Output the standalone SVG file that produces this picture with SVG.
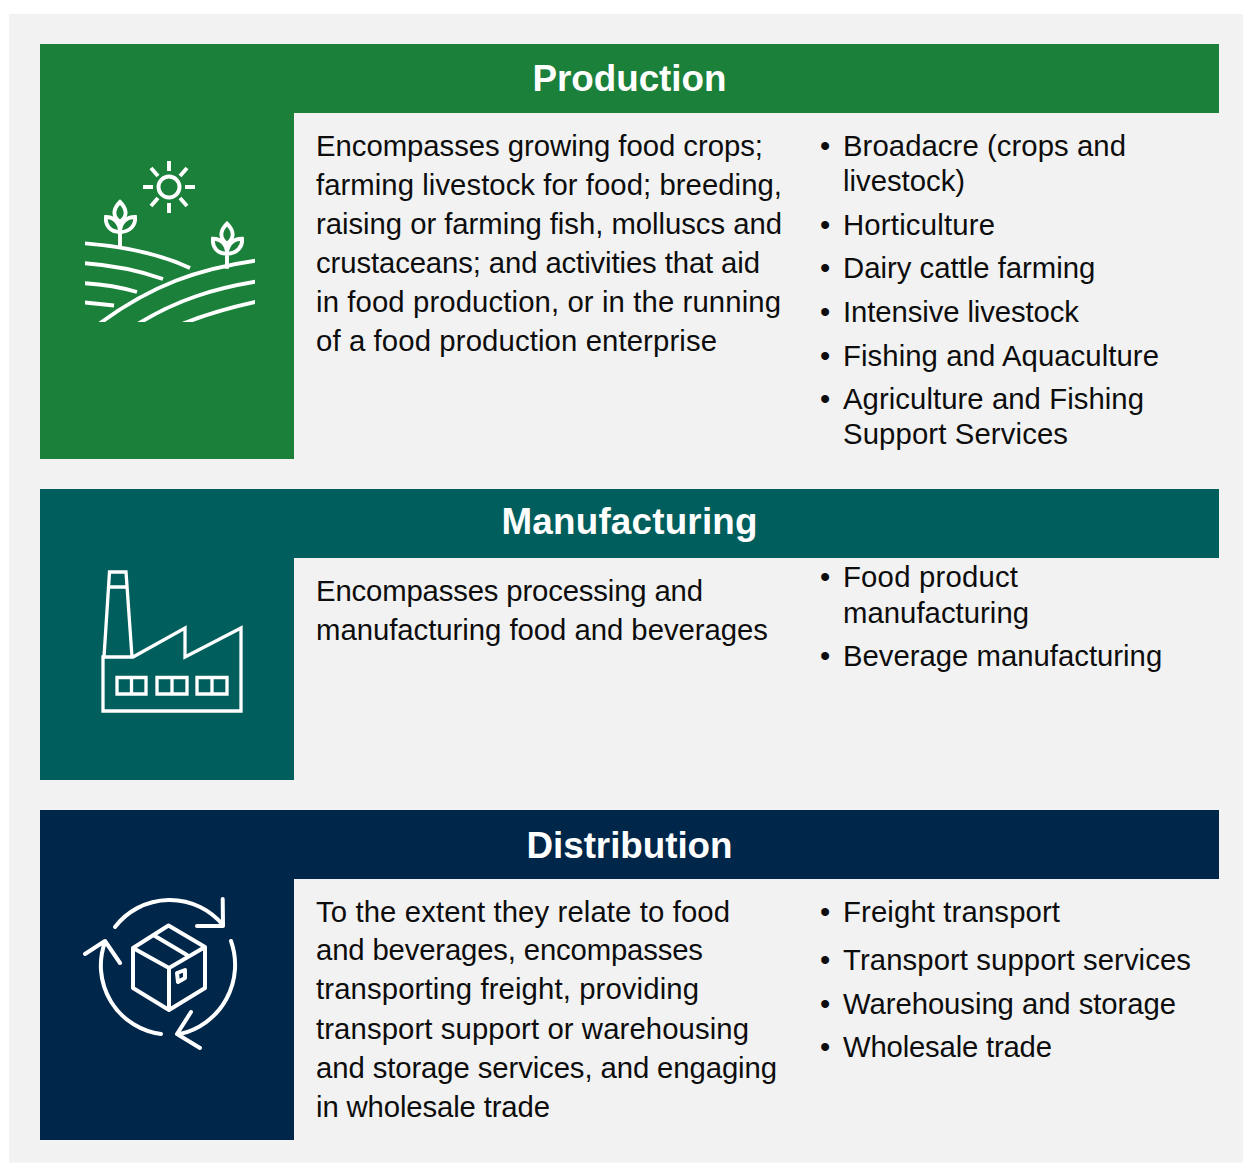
<svg xmlns="http://www.w3.org/2000/svg" width="1243" height="1164" viewBox="0 0 1243 1164">
<style>
text{font-family:"Liberation Sans",Arial,sans-serif;fill:#0d0d0d}
.b{font-size:29.3px}
.h{font-size:36.8px;font-weight:bold;fill:#fff;text-anchor:middle}
.i{fill:none;stroke:#fff;stroke-width:3.3}
.p{stroke-width:3.9}
.t{stroke-width:4;stroke-linejoin:round;stroke-linecap:round}
</style>
<defs><clipPath id="hill"><rect x="85" y="230" width="170" height="92"/></clipPath></defs>
<rect width="1243" height="1164" fill="#fff"/>
<rect x="9" y="14" width="1234" height="1148.500" fill="#f2f2f2"/>
<g id="production">
<path d="M40 44H1219V113H294V459H40Z" fill="#1b8039"/>
<text class="h" x="629.500" y="91" textLength="194">Production</text>
<g class="i p">
<circle cx="169" cy="187" r="10.500"/>
<path d="M169 161V171M169 203V213M143 187H153M185 187H195M151 168L158 176M187 168L180 176M151 206L158 198M187 206L180 198"/>
<g clip-path="url(#hill)">
<path d="M80 243C125 246 160 254 190 268M80 263C115 265 140 271 163 279M80 283C102 284 120 287 137 292M80 302L114 305.500M95 327C150 285 200 268 260 260M133 327C175 300 215 288 260 281M175 327C205 314 232 307 260 301"/>
</g>
<path id="sprout" d="M120 247V222M120 202C113 209 112 216 120 222C128 216 127 209 120 202ZM120 232C110 232 105 225 106 217C113 217 120 222 120 232C120 222 127 217 135 217C136 225 130 232 120 232Z"/>
<use href="#sprout" x="107" y="21.700"/>
</g>
<text class="b" x="316" y="156" textLength="447">Encompasses growing food crops;</text>
<text class="b" x="316" y="195" textLength="466">farming livestock for food; breeding,</text>
<text class="b" x="316" y="234" textLength="466">raising or farming fish, molluscs and</text>
<text class="b" x="316" y="273" textLength="444">crustaceans; and activities that aid</text>
<text class="b" x="316" y="312" textLength="465">in food production, or in the running</text>
<text class="b" x="316" y="351" textLength="401">of a food production enterprise</text>
<text class="b" x="820" y="156">•</text><text class="b" x="843" y="156" textLength="283">Broadacre (crops and</text>
<text class="b" x="843" y="191">livestock)</text>
<text class="b" x="820" y="235">•</text><text class="b" x="843" y="235" textLength="152">Horticulture</text>
<text class="b" x="820" y="278">•</text><text class="b" x="843" y="278">Dairy cattle farming</text>
<text class="b" x="820" y="322">•</text><text class="b" x="843" y="322" textLength="236">Intensive livestock</text>
<text class="b" x="820" y="366">•</text><text class="b" x="843" y="366" textLength="316">Fishing and Aquaculture</text>
<text class="b" x="820" y="409">•</text><text class="b" x="843" y="409" textLength="301">Agriculture and Fishing</text>
<text class="b" x="843" y="444" textLength="225">Support Services</text>
</g>
<g id="manufacturing">
<path d="M40 489H1219V558H294V780H40Z" fill="#005e5c"/>
<text class="h" x="629.500" y="534" textLength="256">Manufacturing</text>
<g class="i">
<path d="M103 657H133L185 628V657L241 628V711H103ZM104 657L109.500 572H126L132 657M108 587H127"/>
<path d="M117 677.500H146V694H117ZM131.500 677.500V694M157 677.500H187V694H157ZM172 677.500V694M197 677.500H227V694H197ZM212 677.500V694"/>
</g>
<text class="b" x="316" y="601" textLength="387">Encompasses processing and</text>
<text class="b" x="316" y="640" textLength="452">manufacturing food and beverages</text>
<text class="b" x="820" y="587">•</text><text class="b" x="843" y="587" textLength="175">Food product</text>
<text class="b" x="843" y="623" textLength="186">manufacturing</text>
<text class="b" x="820" y="666">•</text><text class="b" x="843" y="666">Beverage manufacturing</text>
</g>
<g id="distribution">
<path d="M40 810H1219V879H294V1140H40Z" fill="#002649"/>
<text class="h" x="629.500" y="858" textLength="206">Distribution</text>
<g class="i t">
<path d="M115 927A69 69 0 0 1 223 925M222.700 899L223 926H197"/>
<path d="M231 941A71 71 0 0 1 180 1034M191 1012L177 1034L200 1048"/>
<path d="M161 1034A69 69 0 0 1 105 942M85 954L105 941L120 963"/>
<path d="M168.500 925.500L205 947V988L169 1010L133 988V948ZM133 948L169 968L205 947M169 968V1010M155 936L187 955M177 973L185 970V978L178 982Z"/>
</g>
<text class="b" x="316" y="922" textLength="414">To the extent they relate to food</text>
<text class="b" x="316" y="960" textLength="387">and beverages, encompasses</text>
<text class="b" x="316" y="999" textLength="383">transporting freight, providing</text>
<text class="b" x="316" y="1039" textLength="433">transport support or warehousing</text>
<text class="b" x="316" y="1078" textLength="461">and storage services, and engaging</text>
<text class="b" x="316" y="1117" textLength="234">in wholesale trade</text>
<text class="b" x="820" y="922">•</text><text class="b" x="843" y="922" textLength="217">Freight transport</text>
<text class="b" x="820" y="970">•</text><text class="b" x="843" y="970" textLength="348">Transport support services</text>
<text class="b" x="820" y="1014">•</text><text class="b" x="843" y="1014" textLength="333">Warehousing and storage</text>
<text class="b" x="820" y="1057">•</text><text class="b" x="843" y="1057" textLength="209">Wholesale trade</text>
</g>
</svg>
